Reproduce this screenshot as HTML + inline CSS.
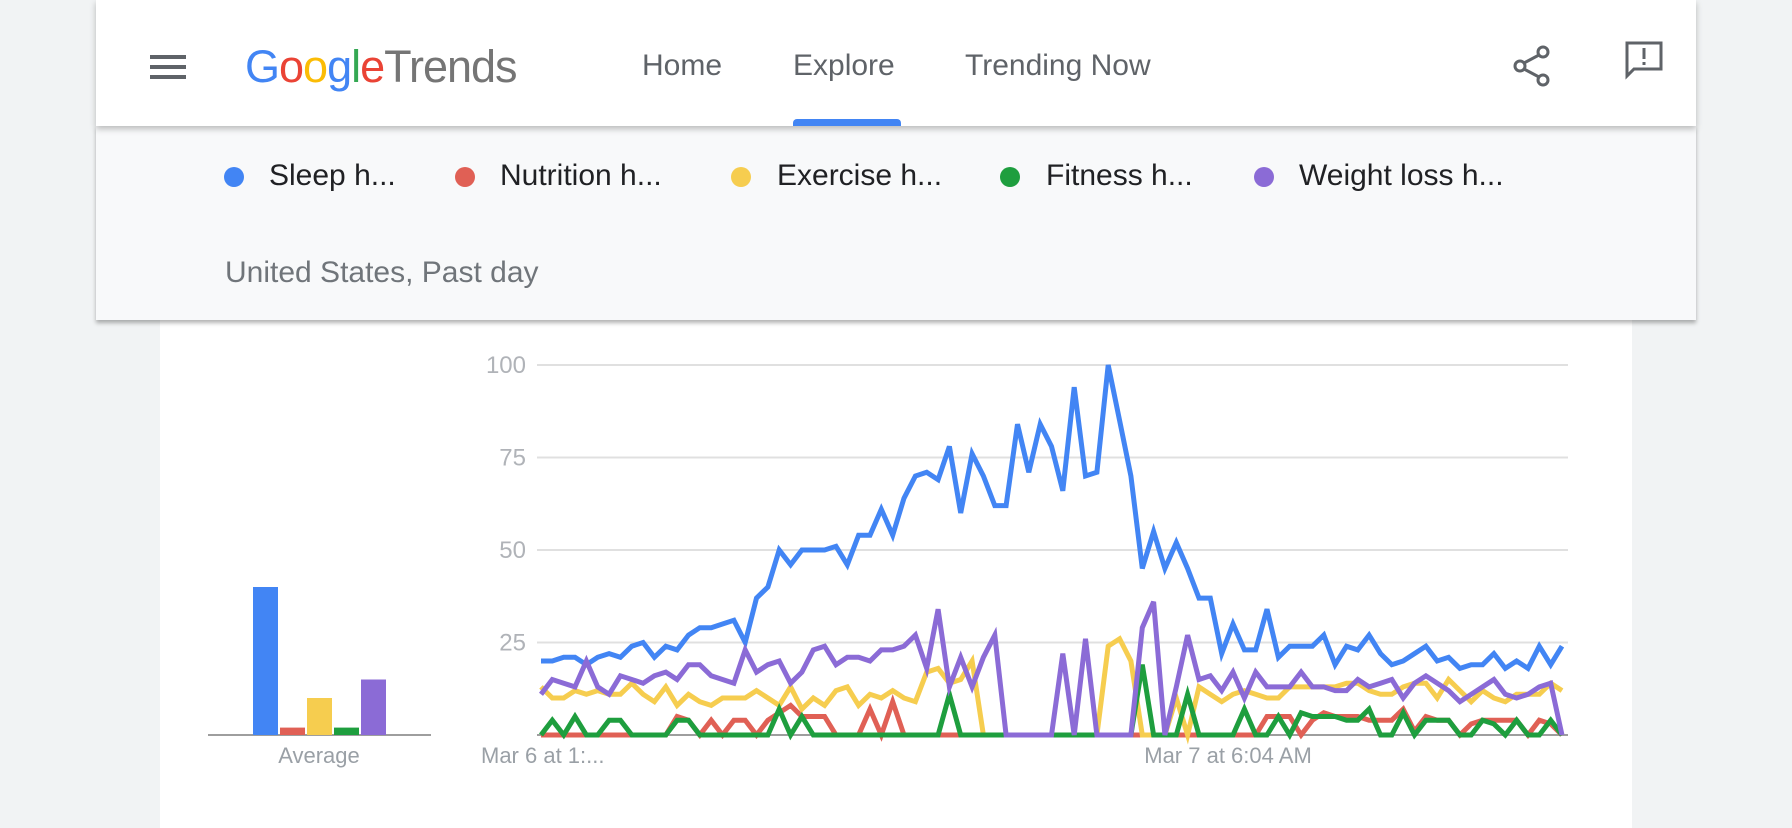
<!DOCTYPE html>
<html><head><meta charset="utf-8">
<style>
body{margin:0;width:1792px;height:828px;background:#f1f3f4;font-family:"Liberation Sans",sans-serif;position:relative;overflow:hidden}
.abs{position:absolute}
#header{left:96px;top:0;width:1600px;height:126px;background:#fff;z-index:3;box-shadow:0 3px 6px rgba(0,0,0,.25)}
#legend{left:96px;top:126px;width:1600px;height:194px;background:#f8f9fa;z-index:2;box-shadow:0 3px 4px rgba(0,0,0,.3)}
#card{left:160px;top:300px;width:1472px;height:528px;background:#fff;z-index:1}
.nav{top:49px;font-size:30px;color:#5f6368;white-space:nowrap}
.li{font-size:30px;color:#202124;white-space:nowrap}
.dot{width:20px;height:20px;border-radius:50%}
svg text{font-family:"Liberation Sans",sans-serif}
</style></head><body>
<div id="header" class="abs">
  <div class="abs" style="left:54px;top:55px;width:36px;height:24px">
    <div style="height:4px;background:#5f6368;margin-bottom:6px"></div><div style="height:4px;background:#5f6368;margin-bottom:6px"></div><div style="height:4px;background:#5f6368"></div>
  </div>
  <div class="abs" style="left:149px;top:41px;font-size:45px;white-space:nowrap;letter-spacing:-1px">
    <span style="color:#4285f4">G</span><span style="color:#ea4335">o</span><span style="color:#fbbc05">o</span><span style="color:#4285f4">g</span><span style="color:#34a853">l</span><span style="color:#ea4335">e</span><span style="color:#757575">Trends</span>
  </div>
  <div class="abs nav" style="left:546px">Home</div>
  <div class="abs nav" style="left:697px">Explore</div>
  <div class="abs" style="left:697px;top:119px;width:108px;height:7px;background:#4285f4;border-radius:4px 4px 0 0"></div>
  <div class="abs nav" style="left:869px">Trending Now</div>
  <svg class="abs" style="left:1415px;top:44px" width="42" height="44" viewBox="0 0 42 44">
    <circle cx="32" cy="8" r="5" fill="none" stroke="#5f6368" stroke-width="3"/><circle cx="9" cy="22" r="5" fill="none" stroke="#5f6368" stroke-width="3"/><circle cx="32" cy="36" r="5" fill="none" stroke="#5f6368" stroke-width="3"/>
    <line x1="13" y1="19" x2="28" y2="11" stroke="#5f6368" stroke-width="3"/><line x1="13" y1="25" x2="28" y2="33" stroke="#5f6368" stroke-width="3"/></svg>
  <svg class="abs" style="left:1528px;top:40px" width="40" height="40" viewBox="0 0 40 40">
    <path d="M3 3 H37 V29 H10 L3 36 Z" fill="none" stroke="#5f6368" stroke-width="3"/><rect x="18.5" y="8" width="3" height="11" fill="#5f6368"/><rect x="18.5" y="22" width="3" height="3" fill="#5f6368"/></svg>
</div>
<div id="legend" class="abs">
  <div class="abs dot" style="left:128px;top:41px;background:#4285f4"></div>
  <div class="abs li" style="left:173px;top:33px">Sleep h...</div>
  <div class="abs dot" style="left:359px;top:41px;background:#e06055"></div>
  <div class="abs li" style="left:404px;top:33px">Nutrition h...</div>
  <div class="abs dot" style="left:635px;top:41px;background:#f6cd4f"></div>
  <div class="abs li" style="left:681px;top:33px">Exercise h...</div>
  <div class="abs dot" style="left:904px;top:41px;background:#1e9e3e"></div>
  <div class="abs li" style="left:950px;top:33px">Fitness h...</div>
  <div class="abs dot" style="left:1158px;top:41px;background:#8b6bd6"></div>
  <div class="abs li" style="left:1203px;top:33px">Weight loss h...</div>
  <div class="abs" style="left:129px;top:130px;font-size:30px;color:#70757a;white-space:nowrap">United States, Past day</div>
</div>
<div id="card" class="abs"></div>
<svg id="chart" class="abs" style="left:0;top:0;z-index:1" width="1792" height="828"></svg>
<script>
const yTicks=[25,50,75,100];
const seriesNames=["sleep","nutrition","exercise","fitness","weight-loss"];
const seriesColors=["#4285f4","#e06055","#f6cd4f","#1e9e3e","#8b6bd6"];
const averages=[40,2,10,2,15];
const xLabels=["Mar 6 at 1:...","Mar 7 at 6:04 AM"];
const xLabelIdx=[0,53];
const sleep=[20,20,21,21,19,21,22,21,24,25,21,24,23,27,29,29,30,31,25,37,40,50,46,50,50,50,51,46,54,54,61,54,64,70,71,69,78,60,76,70,62,62,84,71,84,78,66,94,70,71,100,85,70,45,55,45,52,45,37,37,22,30,23,23,34,21,24,24,24,27,19,24,23,27,22,19,20,22,24,20,21,18,19,19,22,18,20,18,24,19,24];
const nutrition=[0,0,0,0,0,0,0,0,0,0,0,0,5,4,0,4,0,4,4,0,4,6,8,5,5,5,0,0,0,7,0,9,0,0,0,0,0,0,0,0,0,0,0,0,0,0,0,0,0,0,0,0,0,0,0,0,0,0,0,0,0,0,0,0,5,5,5,0,4,6,5,5,5,4,4,4,7,1,5,4,4,0,3,4,4,4,4,0,4,3,0];
const exercise=[13,10,10,12,11,12,11,11,14,11,9,13,8,11,9,8,10,10,10,12,10,8,13,7,10,8,12,13,8,11,10,12,10,9,17,18,14,15,20,0,0,0,0,0,0,0,0,0,0,0,24,26,20,0,0,0,10,0,13,11,9,11,12,11,10,10,13,13,13,13,13,14,14,12,11,11,13,14,14,10,15,12,9,12,10,9,11,11,11,14,12];
const fitness=[0,4,0,5,0,0,4,4,0,0,0,0,4,4,0,0,0,0,0,0,0,7,0,5,0,0,0,0,0,0,0,0,0,0,0,0,11,0,0,0,0,0,0,0,0,0,0,0,0,0,0,0,0,19,0,0,0,11,0,0,0,0,7,0,0,5,0,6,5,5,5,4,4,7,0,0,6,0,4,4,4,0,0,4,3,0,4,0,0,4,0];
const weightLoss=[11,15,14,13,20,13,11,16,15,14,16,17,15,19,19,16,15,14,23,17,19,20,14,17,23,24,19,21,21,20,23,23,24,27,18,34,13,21,13,21,27,0,0,0,0,0,22,0,26,0,0,0,0,29,36,0,13,27,15,16,12,17,10,17,13,13,13,17,13,13,12,12,15,13,14,15,10,14,16,14,12,9,11,13,15,11,10,11,13,14,0];
const allSeries=[sleep,nutrition,exercise,fitness,weightLoss];
const NS="http://www.w3.org/2000/svg";
const svg=document.getElementById('chart');
const X0=541,X1=1562,Y0=735,Y1=365;
const xScale=i=>X0+i*(X1-X0)/(sleep.length-1);
const yScale=v=>Y0-(v/100)*(Y0-Y1);
function mk(tag,attrs){const e=document.createElementNS(NS,tag);for(const k in attrs)e.setAttribute(k,attrs[k]);svg.appendChild(e);return e;}
yTicks.forEach(t=>{
  const g=mk('line',{x1:537,x2:1568,y1:yScale(t),y2:yScale(t),stroke:'#e0e0e0','stroke-width':2});
  
  
  const tx=mk('text',{x:526,y:yScale(t)+8,'text-anchor':'end','font-size':24,fill:'#b0b3b8'});
  tx.textContent=t;
  
  
});
const base=mk('line',{x1:537,x2:1568,y1:Y0,y2:Y0,stroke:'#9e9e9e','stroke-width':2});


xLabels.forEach((l,k)=>{
  const tx=mk('text',{x:k==0?481:xScale(xLabelIdx[k])+2,y:763,'font-size':22,fill:'#9aa0a6'});
  tx.textContent=l;
  
  
});
allSeries.forEach((s,si)=>{
  const d=s.map((v,i)=>(i?'L':'M')+xScale(i).toFixed(1)+' '+yScale(v).toFixed(1)).join(' ');
  const p=mk('path',{d:d,fill:'none',stroke:seriesColors[si],'stroke-width':5,'stroke-linejoin':'miter'});
  
  
});
const ab=mk('line',{x1:208,x2:431,y1:Y0,y2:Y0,stroke:'#9e9e9e','stroke-width':2});


averages.forEach((v,i)=>{
  const r=mk('rect',{x:253+i*27,y:yScale(v),width:25,height:Y0-yScale(v),fill:seriesColors[i]});
  
  
});
const at=mk('text',{x:319,y:763,'text-anchor':'middle','font-size':22,fill:'#9aa0a6'});
at.textContent='Average';


</script>
</body></html>
